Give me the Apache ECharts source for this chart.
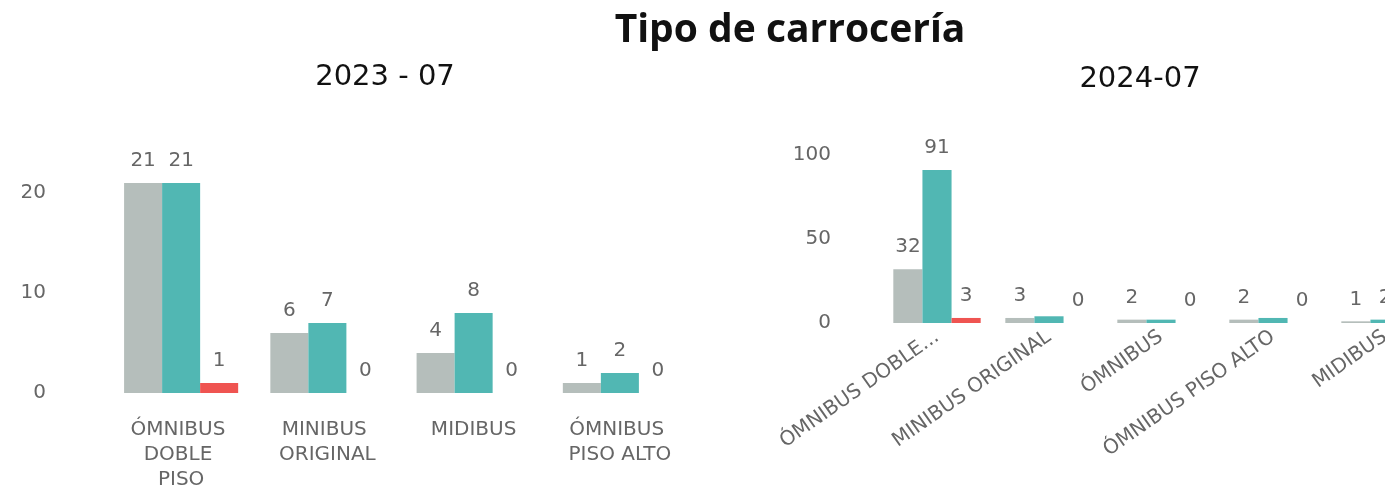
<!DOCTYPE html>
<html><head><meta charset="utf-8">
<script src="https://cdn.jsdelivr.net/npm/echarts@6/dist/echarts.min.js"></script>
<style>html,body{margin:0;padding:0;background:#fff;overflow:hidden;width:1385px;height:488px;}#c{width:1441px;height:488px;}</style>
</head><body><div id="c"></div>
<script>
const titleText = 'Tipo de carrocería';
const leftTitle = '2023 - 07';
const rightTitle = '2024-07';
const leftCategories = ['ÓMNIBUS DOBLE PISO', 'MINIBUS ORIGINAL', 'MIDIBUS', 'ÓMNIBUS PISO ALTO'];
const leftGray = [21, 6, 4, 1];
const leftTeal = [21, 7, 8, 2];
const leftRed = [1, 0, 0, 0];
const rightCategories = ['ÓMNIBUS DOBLE PISO', 'MINIBUS ORIGINAL', 'ÓMNIBUS', 'ÓMNIBUS PISO ALTO', 'MIDIBUS'];
const rightGray = [32, 3, 2, 2, 1];
const rightTeal = [91, 4, 2, 3, 2];
const rightRed = [3, 0, 0, 0, 0];
const rightTealHiddenLabels = [1, 2, 3];

const FONT = 'DejaVu Sans';
const TXT = '#666';
const C_GRAY = '#b5bebb', C_TEAL = '#51b7b3', C_RED = '#ef5451';

function barSeries(data, color, xi, fontSize, hidden) {
  return {
    type: 'bar', xAxisIndex: xi, yAxisIndex: xi,
    data: data.map((v, i) => (hidden && hidden.includes(i)) ? {value: v, label: {show: false}} : v),
    itemStyle: {color: color},
    barGap: '0%', barCategoryGap: '22%',
    label: {show: true, position: 'top', distance: 12, color: TXT, fontFamily: FONT, fontSize: fontSize},
    animation: false
  };
}

const chart = echarts.init(document.getElementById('c'), null, {renderer: 'canvas'});
chart.setOption({
  animation: false,
  title: [
    {text: titleText, left: 785, top: 6, textAlign: 'center', textStyle: {fontFamily: 'Open Sans', fontSize: 39, fontWeight: 'bold', color: '#111'}},
    {text: leftTitle, left: 380, top: 58, textAlign: 'center', textStyle: {fontFamily: FONT, fontSize: 29, fontWeight: 'normal', color: '#111'}},
    {text: rightTitle, left: 1135, top: 60, textAlign: 'center', textStyle: {fontFamily: FONT, fontSize: 29, fontWeight: 'normal', color: '#111'}}
  ],
  grid: [
    {left: 108, top: 143, width: 585, height: 250, outerBoundsMode: 'none', containLabel: false},
    {left: 881, top: 155, width: 560, height: 168, outerBoundsMode: 'none', containLabel: false}
  ],
  xAxis: [
    {type: 'category', gridIndex: 0, data: leftCategories,
     axisLine: {show: false}, axisTick: {show: false},
     axisLabel: {color: TXT, fontFamily: FONT, fontSize: 20, margin: 24, width: 116, overflow: 'break', lineHeight: 25, interval: 0}},
    {type: 'category', gridIndex: 1, data: rightCategories,
     axisLine: {show: false}, axisTick: {show: false},
     axisLabel: {color: TXT, fontFamily: FONT, fontSize: 20, margin: 12, rotate: 35, interval: 0,
       formatter: v => v.length > 17 ? v.slice(0, 13) + '...' : v}}
  ],
  yAxis: [
    {type: 'value', gridIndex: 0, min: 0, max: 25, interval: 10,
     splitLine: {show: false}, axisLine: {show: false}, axisTick: {show: false},
     axisLabel: {color: TXT, fontFamily: FONT, fontSize: 20, margin: 62, showMaxLabel: false}},
    {type: 'value', gridIndex: 1, min: 0, max: 100, interval: 50,
     splitLine: {show: false}, axisLine: {show: false}, axisTick: {show: false},
     axisLabel: {color: TXT, fontFamily: FONT, fontSize: 20, margin: 50}}
  ],
  series: [
    barSeries(leftGray, C_GRAY, 0, 20),
    barSeries(leftTeal, C_TEAL, 0, 20),
    barSeries(leftRed, C_RED, 0, 20),
    barSeries(rightGray, C_GRAY, 1, 20),
    barSeries(rightTeal, C_TEAL, 1, 20, rightTealHiddenLabels),
    barSeries(rightRed, C_RED, 1, 20)
  ]
});
</script></body></html>
